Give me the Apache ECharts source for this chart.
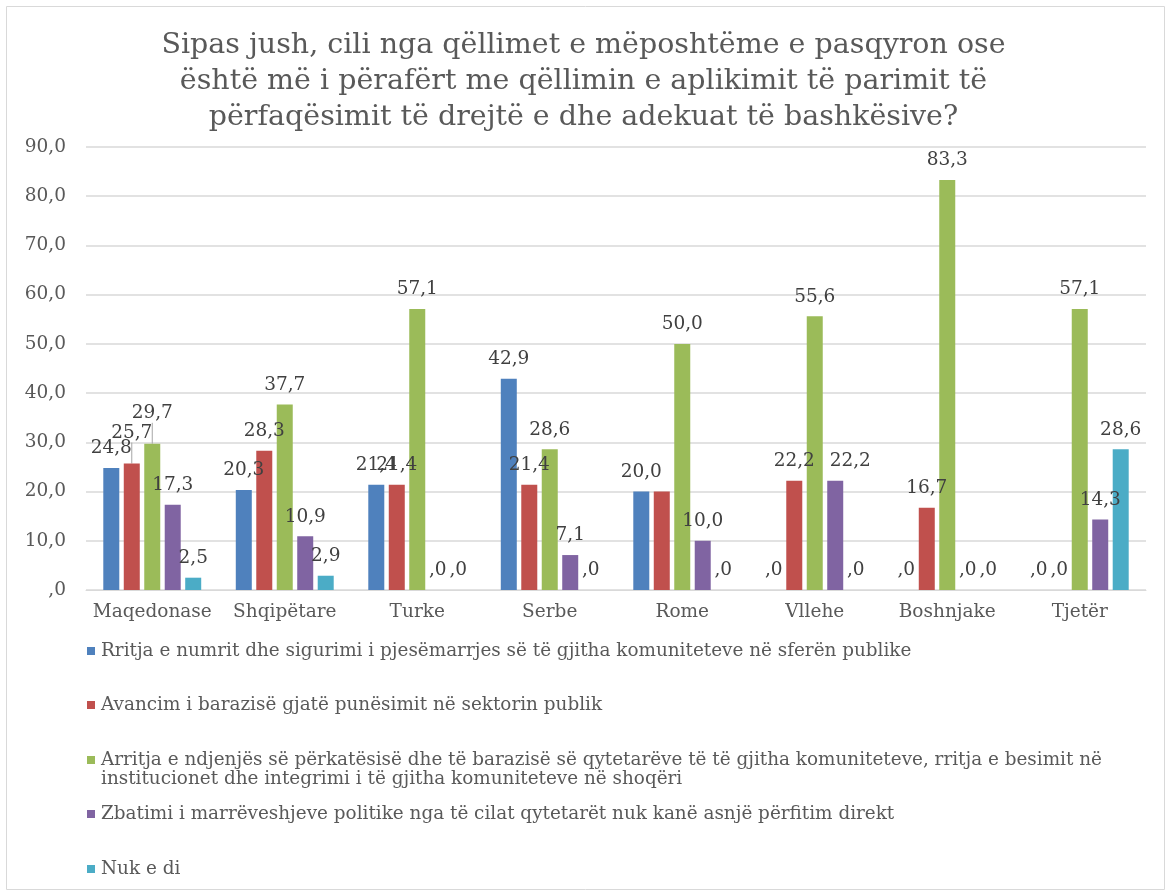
<!DOCTYPE html>
<html><head><meta charset="utf-8">
<script src="https://cdn.jsdelivr.net/npm/echarts@6/dist/echarts.min.js"></script>
<style>html,body{margin:0;padding:0;background:#fff}#c{width:1167px;height:892px}</style>
</head><body><div id="c"></div>
<script>
const titleText = "Sipas jush, cili nga qëllimet e mëposhtëme e pasqyron ose\nështë më i përafërt me qëllimin e aplikimit të parimit të\npërfaqësimit të drejtë e dhe adekuat të bashkësive?";
const categories = ["Maqedonase","Shqipëtare","Turke","Serbe","Rome","Vllehe","Boshnjake","Tjetër"];
const seriesNames = [
  "Rritja e numrit dhe sigurimi i pjesëmarrjes së të gjitha komuniteteve në sferën publike",
  "Avancim i barazisë gjatë punësimit në sektorin publik",
  "Arritja e ndjenjës së përkatësisë dhe të barazisë së qytetarëve të të gjitha komuniteteve, rritja e besimit në institucionet dhe integrimi i të gjitha komuniteteve në shoqëri",
  "Zbatimi i marrëveshjeve politike nga të cilat qytetarët nuk kanë asnjë përfitim direkt",
  "Nuk e di"
];
const rritja   = [24.8, 20.3, 21.4, 42.9, 20.0, 0.0, 0.0, 0.0];
const avancim  = [25.7, 28.3, 21.4, 21.4, 20.0, 22.2, 16.7, 0.0];
const arritja  = [29.7, 37.7, 57.1, 28.6, 50.0, 55.6, 83.3, 57.1];
const zbatimi  = [17.3, 10.9, 0.0, 7.1, 10.0, 22.2, 0.0, 14.3];
const nukEDi   = [2.5, 2.9, 0.0, 0.0, 0.0, 0.0, 0.0, 28.6];
const yTicks = [0,10,20,30,40,50,60,70,80,90];
const colors = ["#4f81bd","#c0504d","#9bbb59","#8064a2","#4bacc6"];
const seriesValues = [rritja, avancim, arritja, zbatimi, nukEDi];

const FONT = "DejaVu Serif";
const fmt = v => v === 0 ? ",0" : v.toFixed(1).replace(".", ",");

// label adjustments (series index -> data index -> {dx, dy, hide})
const labelAdjust = {
  1: {0: {dy: -11}, 4: {hide: true}},
  2: {0: {dy: -11}},
  3: {5: {dx: 15}}
};

const legendTops = [650, 704, 759, 813, 868];

const chart = echarts.init(document.getElementById('c'));
const series = seriesValues.map((vals, si) => ({
  name: seriesNames[si],
  type: 'bar',
  barWidth: 16,
  barGap: '28%',
  itemStyle: {color: colors[si]},
  data: vals.map((v, di) => {
    const adj = (labelAdjust[si] || {})[di];
    if (adj && adj.hide) return {value: v, label: {show: false}};
    if (adj && adj.dy) return {value: v, labelLine: {show: true}};
    return v;
  }),
  label: {
    show: true, position: 'top', distance: 10,
    fontFamily: FONT, fontSize: 18.5, color: '#404040',
    formatter: p => fmt(p.value)
  },
  labelLine: {show: false, lineStyle: {color: '#a6a6a6', width: 1}},
  labelLayout: p => {
    const adj = (labelAdjust[si] || {})[p.dataIndex];
    if (adj && !adj.hide) return {dx: adj.dx || 0, dy: adj.dy || 0};
    return {};
  }
}));

const legends = seriesNames.map((n, i) => ({
  data: [n],
  orient: 'vertical',
  left: 87, top: legendTops[i] - 8,
  padding: 0,
  itemWidth: 8, itemHeight: 8, icon: 'rect',
  selectedMode: false,
  textStyle: {fontFamily: FONT, fontSize: 18.4, color: '#595959', padding: [0,0,0,1]},
  formatter: name => name.indexOf(", rritja e besimit në") > 0 ? name.slice(0, name.indexOf(" institucionet")) : name
}));

chart.setOption({
  animation: false,
  color: colors,
  title: {
    text: titleText, left: 'center', top: 28, padding: 0,
    textStyle: {fontFamily: FONT, fontSize: 28.5, fontWeight: 'normal', color: '#595959', lineHeight: 36}
  },
  legend: legends,
  graphic: [
    {type: 'rect', left: 4, top: 4, shape: {width: 1158, height: 883}, style: {fill: 'none', stroke: '#d9d9d9', lineWidth: 1}, silent: true},
    {type: 'text', left: 101, top: 770, style: {text: seriesNames[2].slice(seriesNames[2].indexOf("institucionet")), font: "18.4px 'DejaVu Serif'", fill: '#595959'}}
  ],
  grid: {left: 86, right: 21, top: 147, bottom: 302, containLabel: false},
  xAxis: {
    type: 'category', data: categories,
    axisTick: {show: false},
    axisLine: {lineStyle: {color: '#d9d9d9', width: 1}},
    axisLabel: {interval: 0, fontFamily: FONT, fontSize: 18.5, color: '#595959', margin: 13}
  },
  yAxis: {
    type: 'value', min: 0, max: 90, interval: 10,
    axisLine: {show: false}, axisTick: {show: false},
    splitLine: {lineStyle: {color: '#d9d9d9', width: 1.5}},
    axisLabel: {fontFamily: FONT, fontSize: 18.5, color: '#595959', margin: 20, formatter: v => fmt(v)}
  },
  series: series
});
</script></body></html>
